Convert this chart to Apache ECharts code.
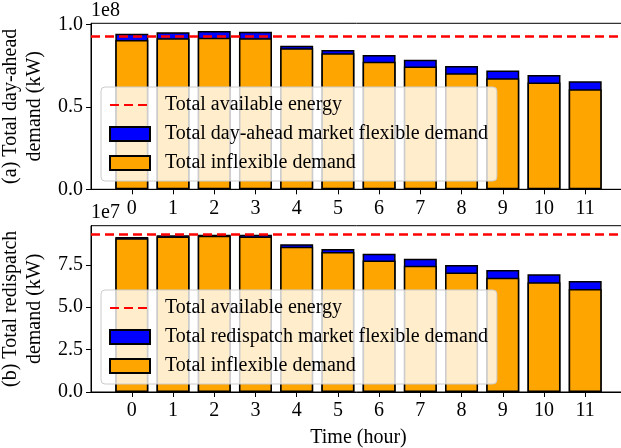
<!DOCTYPE html>
<html>
<head>
<meta charset="utf-8">
<script src="https://cdn.jsdelivr.net/npm/echarts@6/dist/echarts.min.js"></script>
<style>
  html, body { margin: 0; padding: 0; background: #fff; }
  #chart { width: 621px; height: 448px; }
</style>
</head>
<body>
<div id="chart"></div>
<script>
// ---- Data (kW) ----
const hours = [0, 1, 2, 3, 4, 5, 6, 7, 8, 9, 10, 11];
const inflexibleDemand = [9.07e7, 9.17e7, 9.21e7, 9.17e7, 8.57e7, 8.26e7, 7.75e7, 7.45e7, 7.05e7, 6.74e7, 6.48e7, 6.08e7];
const dayAheadFlexible = [0.38e7, 0.37e7, 0.41e7, 0.39e7, 0.15e7, 0.20e7, 0.41e7, 0.41e7, 0.44e7, 0.47e7, 0.46e7, 0.48e7];
const redispatchFlexible = [0.08e7, 0.08e7, 0.07e7, 0.10e7, 0.15e7, 0.17e7, 0.41e7, 0.41e7, 0.44e7, 0.46e7, 0.46e7, 0.47e7];
const availableEnergy = 9.32e7;
const topYTicks = [0, 0.5e8, 1.0e8];
const bottomYTicks = [0, 2.5e7, 5.0e7, 7.5e7];

const FONT = 'Liberation Serif';
const FS = 20;
const pair = (arr) => hours.map((h, i) => [h, arr[i]]);
// stacked top = inflexible + flexible (drawn behind the inflexible bar)
const stackTop = (flex) => hours.map((h, i) => [h, inflexibleDemand[i] + flex[i]]);

const chart = echarts.init(document.getElementById('chart'), null, { renderer: 'canvas' });

function xAxisCfg(gridIndex, withName) {
  return {
    type: 'value', gridIndex, min: -0.99, max: 11.99,
    axisLine: { show: true, onZero: false, lineStyle: { color: '#000', width: 1 } },
    axisTick: { show: true, customValues: hours, length: 5, lineStyle: { color: '#000' } },
    axisLabel: { customValues: hours, color: '#000', fontFamily: FONT, fontSize: FS, margin: 9 },
    splitLine: { show: false },
    name: withName ? 'Time (hour)' : '',
    nameLocation: 'middle', nameGap: 36,
    nameTextStyle: { color: '#000', fontFamily: FONT, fontSize: FS }
  };
}
function yAxisCfg(gridIndex, max, ticks, div, name) {
  return {
    type: 'value', gridIndex, min: 0, max,
    axisLine: { show: true, onZero: false, lineStyle: { color: '#000', width: 1 } },
    axisTick: { show: true, customValues: ticks, length: 5, lineStyle: { color: '#000' } },
    axisLabel: { customValues: ticks, color: '#000', fontFamily: FONT, fontSize: FS, margin: 8,
      formatter: (v) => (v / div).toFixed(1) },
    splitLine: { show: false },
    name, nameLocation: 'middle', nameRotate: 90, nameGap: 35,
    nameTextStyle: { color: '#000', fontFamily: FONT, fontSize: FS, lineHeight: 24 }
  };
}
function legendCfg(top, flexName) {
  return {
    orient: 'vertical', left: 101, top,
    data: [
      { name: 'Total available energy', itemStyle: { opacity: 0 } },
      { name: flexName, icon: 'rect' },
      { name: 'Total inflexible demand', icon: 'rect' }
    ],
    itemWidth: 40, itemHeight: 14, itemGap: 9,
    padding: [8, 9, 8, 8],
    backgroundColor: 'rgba(255,255,255,0.8)',
    borderColor: '#cccccc', borderWidth: 1, borderRadius: 4,
    textStyle: { color: '#000', fontFamily: FONT, fontSize: FS, padding: [0, 0, 0, 10] },
    selectedMode: false
  };
}
function barSeries(name, data, color, axisIdx) {
  return {
    type: 'bar', name, data,
    xAxisIndex: axisIdx, yAxisIndex: axisIdx, barWidth: '80%', barGap: '-100%',
    itemStyle: { color, borderColor: '#000', borderWidth: 1.5 },
    emphasis: { disabled: true }, animation: false
  };
}
function lineSeries(axisIdx) {
  return {
    type: 'line', name: 'Total available energy', data: [],
    xAxisIndex: axisIdx, yAxisIndex: axisIdx, symbol: 'none',
    lineStyle: { color: '#ff0000', width: 2.7, type: [9, 5] },
    itemStyle: { color: '#ff0000' },
    markLine: {
      silent: true, symbol: 'none', label: { show: false },
      lineStyle: { color: '#ff0000', width: 2.7, type: [9, 5] },
      data: [{ yAxis: availableEnergy }]
    },
    z: 5, animation: false
  };
}

const option = {
  animation: false,
  backgroundColor: '#fff',
  grid: [
    { left: 91, right: -5, top: 23.3, height: 166, show: true, borderColor: '#000', borderWidth: 1,
      containLabel: false, outerBoundsMode: 'none' },
    { left: 91, right: -5, top: 225.7, height: 166.3, show: true, borderColor: '#000', borderWidth: 1,
      containLabel: false, outerBoundsMode: 'none' }
  ],
  xAxis: [xAxisCfg(0, false), xAxisCfg(1, true)],
  yAxis: [
    yAxisCfg(0, 1.008e8, topYTicks, 1e8, '(a) Total day-ahead\ndemand (kW)'),
    yAxisCfg(1, 9.81e7, bottomYTicks, 1e7, '(b) Total redispatch\ndemand (kW)')
  ],
  legend: [
    legendCfg(87, 'Total day-ahead market flexible demand'),
    legendCfg(290, 'Total redispatch market flexible demand')
  ],
  graphic: [
    { type: 'text', left: 91, top: 1, style: { text: '1e8', font: FS + 'px "' + FONT + '"', fill: '#000' } },
    { type: 'text', left: 91, top: 203, style: { text: '1e7', font: FS + 'px "' + FONT + '"', fill: '#000' } }
  ],
  series: [
    barSeries('Total day-ahead market flexible demand', stackTop(dayAheadFlexible), '#0000FF', 0),
    barSeries('Total inflexible demand', pair(inflexibleDemand), '#FFA500', 0),
    lineSeries(0),
    barSeries('Total redispatch market flexible demand', stackTop(redispatchFlexible), '#0000FF', 1),
    barSeries('Total inflexible demand', pair(inflexibleDemand), '#FFA500', 1),
    lineSeries(1)
  ]
};
chart.setOption(option);
</script>
</body>
</html>
